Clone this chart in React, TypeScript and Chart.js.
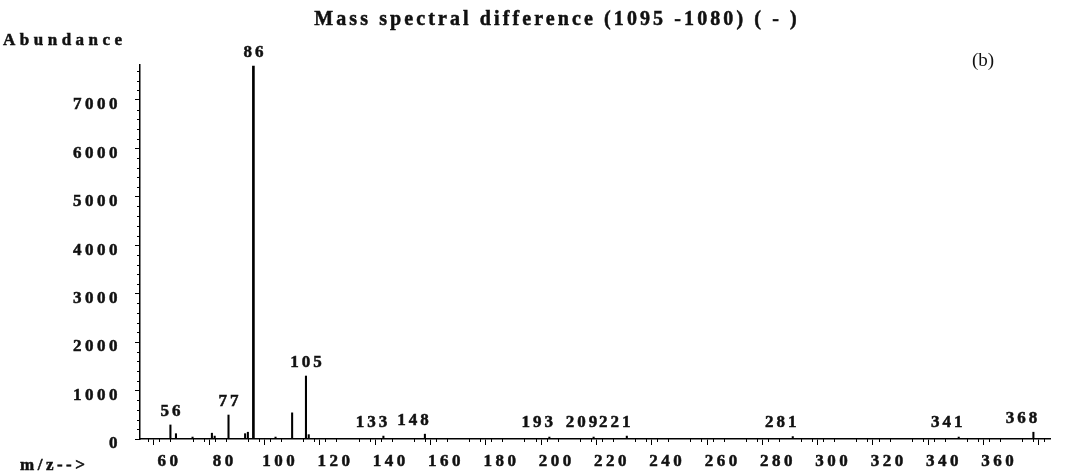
import { useEffect, useRef } from "react";
import { Chart, registerables } from "chart.js";

Chart.register(...registerables);

// ---- data ----
const peakMz = [56, 58, 64, 71, 72, 77, 83, 84, 94, 100, 105, 106, 133, 148, 193, 209, 221, 281, 341, 368];
const peakAbundance = [290, 110, 40, 120, 60, 495, 110, 140, 40, 540, 1300, 90, 60, 100, 40, 40, 60, 50, 40, 140];
const basePeakMz = [86];
const basePeakAbundance = [7700];
const labelledMz = [56, 77, 86, 105, 133, 148, 193, 209, 221, 281, 341, 368];

const xMin = 45;
const xMax = 374;
const xTickValues = [60, 80, 100, 120, 140, 160, 180, 200, 220, 240, 260, 280, 300, 320, 340, 360];
const xMinorStep = 4;
const yMin = 0;
const yMax = 7720;
const yTickValues = [0, 1000, 2000, 3000, 4000, 5000, 6000, 7000];
const yMinorStep = 200;

const titleText = "Mass spectral difference (1095 -1080) ( - )";
const yAxisText = "Abundance";
const xAxisText = "m/z-->";
const panelText = "(b)";

const SERIF = "'Liberation Serif', 'Times New Roman', serif";
const INK = "#111";

export default function App() {
  const ref = useRef<HTMLCanvasElement>(null);

  useEffect(() => {
    const canvas = ref.current;
    if (!canvas) return;

    const allMz = [...peakMz, ...basePeakMz];
    const allAb = [...peakAbundance, ...basePeakAbundance];

    const spacingPlugin = {
      id: "spacing",
      beforeLayout(chart: any) {
        chart.ctx.letterSpacing = "3.5px";
      },
      beforeDraw(chart: any) {
        chart.ctx.letterSpacing = "3.5px";
      },
    };

    const drawText = (ctx: CanvasRenderingContext2D, t: string, x: number, y: number, stroke: number) => {
      ctx.fillText(t, x, y);
      if (stroke > 0) {
        ctx.lineWidth = stroke;
        ctx.strokeStyle = INK;
        ctx.strokeText(t, x, y);
      }
    };

    const annotatePlugin = {
      id: "annotate",
      afterDraw(chart: any) {
        const ctx = chart.ctx as CanvasRenderingContext2D & { letterSpacing: string };
        const xs = chart.scales.x;
        const ys = chart.scales.y;
        const area = chart.chartArea;
        ctx.save();
        ctx.strokeStyle = "#000";
        ctx.lineWidth = 1;
        // minor ticks x
        for (let m = Math.ceil(xMin / xMinorStep) * xMinorStep; m <= xMax; m += xMinorStep) {
          if (xTickValues.includes(m)) continue;
          const px = Math.round(xs.getPixelForValue(m)) + 0.5;
          ctx.beginPath();
          ctx.moveTo(px, area.bottom);
          ctx.lineTo(px, area.bottom + 3);
          ctx.stroke();
        }
        // minor ticks y
        for (let v = yMin; v <= yMax; v += yMinorStep) {
          if (yTickValues.includes(v)) continue;
          const py = Math.round(ys.getPixelForValue(v)) + 0.5;
          ctx.beginPath();
          ctx.moveTo(area.left, py);
          ctx.lineTo(area.left - 3, py);
          ctx.stroke();
        }

        ctx.fillStyle = INK;
        // peak labels
        ctx.font = `bold 17px ${SERIF}`;
        ctx.letterSpacing = "3px";
        ctx.textAlign = "center";
        ctx.textBaseline = "alphabetic";
        labelledMz.forEach((m) => {
          const i = allMz.indexOf(m);
          const v = allAb[i];
          const px = xs.getPixelForValue(m) + (v < 200 ? -12 : 0) + 1.5;
          const py = Math.min(ys.getPixelForValue(v), 436) - 9;
          drawText(ctx, String(m), px, py, 0.5);
        });

        // title
        ctx.font = `bold 20px ${SERIF}`;
        ctx.letterSpacing = "3.1px";
        ctx.textAlign = "center";
        drawText(ctx, titleText, 557, 25, 0.5);

        // y axis text
        ctx.font = `bold 17px ${SERIF}`;
        ctx.letterSpacing = "4.5px";
        ctx.textAlign = "left";
        drawText(ctx, yAxisText, 3, 45, 0.5);

        // x axis text
        ctx.letterSpacing = "3.5px";
        drawText(ctx, xAxisText, 20, 470, 0.5);

        // panel label
        ctx.font = `19px ${SERIF}`;
        ctx.letterSpacing = "0px";
        ctx.textAlign = "center";
        drawText(ctx, panelText, 983, 66, 0);
        ctx.restore();
      },
    };

    const chart = new Chart(canvas, {
      type: "bar",
      data: {
        datasets: [
          {
            label: "base peak",
            data: basePeakMz.map((m, i) => ({ x: m, y: basePeakAbundance[i] })),
            backgroundColor: "#000",
            barThickness: 2,
            grouped: false,
          } as any,
          {
            label: "peaks",
            data: peakMz.map((m, i) => ({ x: m, y: peakAbundance[i] })),
            backgroundColor: "#000",
            barThickness: 1.4,
            grouped: false,
          } as any,
        ],
      },
      options: {
        responsive: false,
        animation: false,
        layout: { padding: { top: 65, right: 17, bottom: 0, left: 0 } },
        plugins: {
          legend: { display: false },
          tooltip: { enabled: false },
          title: { display: false },
        },
        scales: {
          x: {
            type: "linear",
            min: xMin,
            max: xMax,
            offset: false,
            grid: {
              drawOnChartArea: false,
              drawTicks: true,
              tickLength: 6,
              tickColor: "#000",
            },
            border: { display: true, color: "#000", width: 1.5 },
            afterBuildTicks: (scale: any) => {
              scale.ticks = xTickValues.map((v) => ({ value: v }));
            },
            ticks: {
              color: INK,
              labelOffset: -12,
              padding: 6,
              maxRotation: 0,
              autoSkip: false,
              textStrokeColor: INK,
              textStrokeWidth: 0.5,
              callback: (v: any) => String(v),
              font: { family: SERIF, size: 17, weight: "bold" },
            },
            afterFit: (scale: any) => {
              scale.height = 34;
            },
          } as any,
          y: {
            type: "linear",
            min: yMin,
            max: yMax,
            grid: {
              drawOnChartArea: false,
              drawTicks: true,
              tickLength: 5,
              tickColor: "#000",
            },
            border: { display: true, color: "#000", width: 1.5 },
            afterBuildTicks: (scale: any) => {
              scale.ticks = yTickValues.map((v) => ({ value: v }));
            },
            ticks: {
              color: INK,
              labelOffset: 5,
              padding: 14,
              autoSkip: false,
              textStrokeColor: INK,
              textStrokeWidth: 0.5,
              callback: (v: any) => String(v),
              font: { family: SERIF, size: 17, weight: "bold" },
            },
            afterFit: (scale: any) => {
              scale.width = 140;
            },
          } as any,
        },
      },
      plugins: [spacingPlugin, annotatePlugin],
    });

    return () => chart.destroy();
  }, []);

  return (
    <div style={{ position: "fixed", left: 0, top: 0, width: 1067, height: 473, background: "#fff" }}>
      <canvas ref={ref} width={1067} height={473} style={{ display: "block", width: 1067, height: 473 }} />
    </div>
  );
}
